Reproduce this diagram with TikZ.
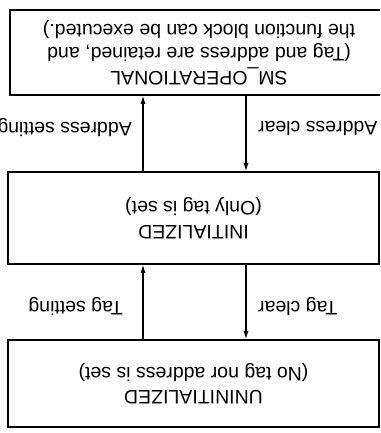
\documentclass[tikz,border=0pt]{standalone}
\usepackage{fontspec}
\setmainfont{Liberation Sans}
\usetikzlibrary{arrows.meta}

\begin{document}
\begin{tikzpicture}[x=1pt,y=1pt]
                  \tikzstyle{every node}+=[inner sep=0pt]
                  \tikzstyle{statebox}=[draw, black, line width=1.6pt, rotate=180, align=center, font=\fontsize{19.5}{23.5}\selectfont]
                  \tikzstyle{lbl}=[rotate=180, font=\fontsize{19.5}{23.5}\selectfont]
                  \tikzstyle{trans}=[black, line width=1.1pt, -{Latex[length=8pt,width=5pt]}]
                  \clip (0,0) rectangle (380,-433);
                  % the three states (whole figure is printed upside down)
                  \node [statebox, minimum width=378, minimum height=85] (oper) at (199,-52.5) {SM\_OPERATIONAL\\(Tag and address are retained, and\\the function block can be executed.)};
                  \node [statebox, minimum width=371, minimum height=92] (init) at (193.5,-218) {INITIALIZED\\(Only tag is set)};
                  \node [statebox, minimum width=371, minimum height=87] (uninit) at (193.5,-383.5) {UNINITIALIZED\\(No tag nor address is set)};
                  \coordinate (setx) at (143,0);
                  \coordinate (clrx) at (246,0);
                  % transitions
                  \draw [trans] (setx |- init.south) -- (setx |- oper.north);
                  \node [lbl, anchor=west] (addrset) at (132,-128) {Address setting};
                  \draw [trans] (clrx |- oper.north) -- (clrx |- init.south);
                  \node [lbl, anchor=east] (addrclr) at (258,-128) {Address clear};
                  \draw [trans] (setx |- uninit.south) -- (setx |- init.north);
                  \node [lbl, anchor=west] (tagset) at (123,-307) {Tag setting};
                  \draw [trans] (clrx |- init.north) -- (clrx |- uninit.south);
                  \node [lbl, anchor=east] (tagclr) at (258,-307) {Tag clear};
              \end{tikzpicture}
\end{document}
